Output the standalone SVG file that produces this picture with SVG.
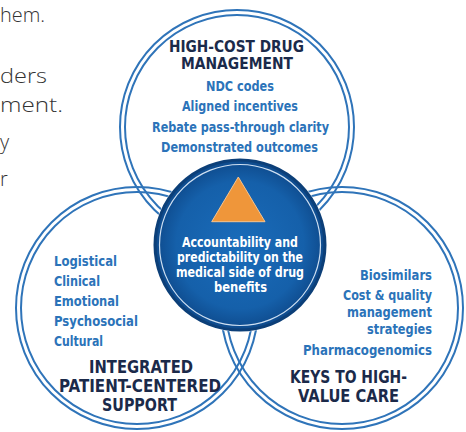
<svg xmlns="http://www.w3.org/2000/svg" width="466" height="432" viewBox="0 0 466 432">
<defs>
<radialGradient id="cg" cx="50%" cy="50%" r="50%">
<stop offset="0%" stop-color="#1a6cba"/>
<stop offset="75%" stop-color="#1560aa"/>
<stop offset="100%" stop-color="#0e4a8c"/>
</radialGradient>
<style>
.ring{fill:none;stroke:#2f74b9;stroke-width:2}
.para{font-family:"Open Sans","Liberation Sans",sans-serif;font-weight:300;font-size:20px;fill:#333}
.cond{font-family:"Liberation Sans Narrow","DejaVu Sans Condensed","Roboto",sans-serif;font-weight:bold}
.title{font-size:18px;fill:#1b2a4a;text-anchor:middle;font-weight:900}
.ttop{font-size:15px}
.item{font-size:14.5px;fill:#2b73b9}
.mid{text-anchor:middle}
.end{text-anchor:end}
.ctext{font-size:13.5px;fill:#ffffff;text-anchor:middle}
</style>
</defs>
<rect width="466" height="432" fill="#ffffff"/>
<g id="paragraph">
<text class="para" x="0" y="22" textLength="45" lengthAdjust="spacingAndGlyphs">hem.</text>
<text class="para" x="0" y="83" textLength="47" lengthAdjust="spacingAndGlyphs">ders</text>
<text class="para" x="0" y="112" textLength="63" lengthAdjust="spacingAndGlyphs">ment.</text>
<text class="para" x="0" y="149">y</text>
<text class="para" x="0" y="186">r</text>
</g>
<g id="node-top">
<circle class="ring" cx="237" cy="127" r="117"/>
<circle class="ring" cx="237" cy="127" r="112"/>
<text class="cond title ttop" x="236.5" y="52" textLength="135" lengthAdjust="spacingAndGlyphs">HIGH-COST DRUG</text>
<text class="cond title ttop" x="237" y="69" textLength="112" lengthAdjust="spacingAndGlyphs">MANAGEMENT</text>
<text class="cond item mid" x="240" y="91" textLength="68" lengthAdjust="spacingAndGlyphs">NDC codes</text>
<text class="cond item mid" x="240" y="111" textLength="116" lengthAdjust="spacingAndGlyphs">Aligned incentives</text>
<text class="cond item mid" x="240.5" y="132" textLength="177" lengthAdjust="spacingAndGlyphs">Rebate pass-through clarity</text>
<text class="cond item mid" x="239.5" y="152" textLength="157" lengthAdjust="spacingAndGlyphs">Demonstrated outcomes</text>
</g>
<g id="node-left">
<circle class="ring" cx="137" cy="308" r="121"/>
<circle class="ring" cx="137" cy="308" r="116"/>
<text class="cond item" x="54" y="266" textLength="63" lengthAdjust="spacingAndGlyphs">Logistical</text>
<text class="cond item" x="54" y="286" textLength="46" lengthAdjust="spacingAndGlyphs">Clinical</text>
<text class="cond item" x="54" y="306" textLength="65" lengthAdjust="spacingAndGlyphs">Emotional</text>
<text class="cond item" x="54" y="326" textLength="84" lengthAdjust="spacingAndGlyphs">Psychosocial</text>
<text class="cond item" x="54" y="346" textLength="49" lengthAdjust="spacingAndGlyphs">Cultural</text>
<text class="cond title" x="141" y="373" textLength="104" lengthAdjust="spacingAndGlyphs">INTEGRATED</text>
<text class="cond title" x="140" y="392" textLength="162" lengthAdjust="spacingAndGlyphs">PATIENT-CENTERED</text>
<text class="cond title" x="139.5" y="411" textLength="75" lengthAdjust="spacingAndGlyphs">SUPPORT</text>
</g>
<g id="node-right">
<circle class="ring" cx="342" cy="308" r="121"/>
<circle class="ring" cx="342" cy="308" r="116"/>
<text class="cond item end" x="432" y="280" textLength="72" lengthAdjust="spacingAndGlyphs">Biosimilars</text>
<text class="cond item end" x="432" y="300" textLength="89" lengthAdjust="spacingAndGlyphs">Cost &amp; quality</text>
<text class="cond item end" x="432" y="317" textLength="85" lengthAdjust="spacingAndGlyphs">management</text>
<text class="cond item end" x="432" y="334" textLength="65" lengthAdjust="spacingAndGlyphs">strategies</text>
<text class="cond item end" x="432" y="355" textLength="129" lengthAdjust="spacingAndGlyphs">Pharmacogenomics</text>
<text class="cond title" x="348.5" y="383" textLength="117" lengthAdjust="spacingAndGlyphs">KEYS TO HIGH-</text>
<text class="cond title" x="348.5" y="402" textLength="101" lengthAdjust="spacingAndGlyphs">VALUE CARE</text>
</g>
<g id="node-center">
<circle cx="240" cy="245" r="87" fill="#ffffff"/>
<circle cx="240" cy="245" r="85" fill="url(#cg)" stroke="#0c3f78" stroke-width="3"/>
<circle cx="240" cy="245" r="80.5" fill="none" stroke="#cfe0f2" stroke-width="1.2"/>
<polygon points="238.3,177 211.7,221.7 265,221.7" fill="#ef963a" stroke="#f7c48e" stroke-width="1"/>
<text class="cond ctext" x="240" y="247" textLength="116" lengthAdjust="spacingAndGlyphs">Accountability and</text>
<text class="cond ctext" x="240" y="262" textLength="126" lengthAdjust="spacingAndGlyphs">predictability on the</text>
<text class="cond ctext" x="240" y="277" textLength="128" lengthAdjust="spacingAndGlyphs">medical side of drug</text>
<text class="cond ctext" x="240.5" y="292" textLength="53" lengthAdjust="spacingAndGlyphs">benefits</text>
</g>
</svg>
